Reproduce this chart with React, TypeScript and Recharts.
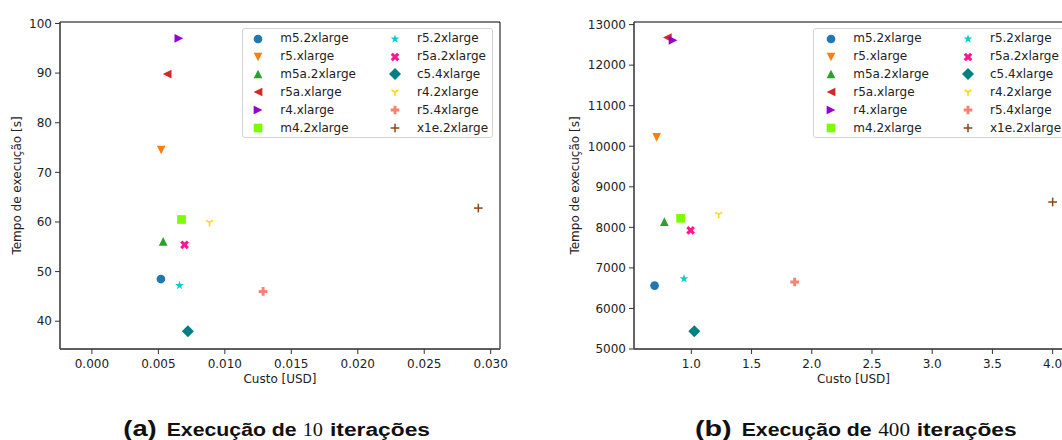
import { ScatterChart, Scatter, XAxis, YAxis, Legend, ReferenceArea } from 'recharts';

// instance types, same order in both runs
const INSTANCES = [
    'm5.2xlarge', 'r5.xlarge', 'm5a.2xlarge', 'r5a.xlarge', 'r4.xlarge', 'm4.2xlarge',
    'r5.2xlarge', 'r5a.2xlarge', 'c5.4xlarge', 'r4.2xlarge', 'r5.4xlarge', 'x1e.2xlarge',
];

// (a) 10 iterations
const COST_10 = [0.00519, 0.00521, 0.00536, 0.00566, 0.00654, 0.00674, 0.00659, 0.00697, 0.00722, 0.00885, 0.01288, 0.02907];
const TIME_10 = [48.5, 74.5, 56.1, 89.8, 97.0, 60.5, 47.2, 55.4, 38.0, 59.9, 46.0, 62.8];

// (b) 400 iterations
const COST_400 = [0.695, 0.712, 0.776, 0.801, 0.848, 0.911, 0.939, 0.994, 1.025, 1.227, 1.858, 4.0];
const TIME_400 = [6564, 10221, 8142, 12679, 12613, 8223, 6736, 7927, 5437, 8322, 6652, 8625];

const X_TICKS_10 = [0, 0.005, 0.01, 0.015, 0.02, 0.025, 0.03];
const Y_TICKS_10 = [40, 50, 60, 70, 80, 90, 100];
const X_TICKS_400 = [1.0, 1.5, 2.0, 2.5, 3.0, 3.5, 4.0];
const Y_TICKS_400 = [5000, 6000, 7000, 8000, 9000, 10000, 11000, 12000, 13000];

const COLORS = ['#1f77b4', '#ff7f0e', '#2ca02c', '#d62728', '#9400d3', '#7cfc00',
    '#00ced1', '#ff1493', '#008080', '#ffd700', '#fa8072', '#8b4513'];
const MARKERS = ['o', 'v', '^', '<', '>', 's', '*', 'X', 'D', '1', 'P', '+'];

const SIZE = 8.7;
const TEXT = '#222';

function pts(list: number[][], cx: number, cy: number, k = 1) {
    return list.map(([x, y]) => `${cx + x * k},${cy + y * k}`).join(' ');
}

function Marker({ kind, cx, cy, color }: { kind: string; cx: number; cy: number; color: string }) {
    const h = SIZE / 2;
    switch (kind) {
        case 'o':
            return <circle cx={cx} cy={cy} r={h} fill={color} />;
        case 'v':
            return <polygon points={pts([[-h, -h], [h, -h], [0, h]], cx, cy)} fill={color} />;
        case '^':
            return <polygon points={pts([[-h, h], [h, h], [0, -h]], cx, cy)} fill={color} />;
        case '<':
            return <polygon points={pts([[-h, 0], [h, -h], [h, h]], cx, cy)} fill={color} />;
        case '>':
            return <polygon points={pts([[h, 0], [-h, -h], [-h, h]], cx, cy)} fill={color} />;
        case 's':
            return <rect x={cx - h} y={cy - h} width={SIZE} height={SIZE} fill={color} />;
        case 'D': {
            const d = 6;
            return <polygon points={pts([[0, -d], [d, 0], [0, d], [-d, 0]], cx, cy)} fill={color} />;
        }
        case '*': {
            const star = [];
            for (let i = 0; i < 10; i++) {
                const a = (-90 + i * 36) * Math.PI / 180;
                const r = i % 2 === 0 ? h + 0.3 : (h + 0.3) * 0.382;
                star.push([r * Math.cos(a), r * Math.sin(a)]);
            }
            return <polygon points={pts(star, cx, cy)} fill={color} />;
        }
        case 'X':
            return <polygon points={pts([[-1, -2], [0, -1], [1, -2], [2, -1], [1, 0], [2, 1], [1, 2], [0, 1], [-1, 2], [-2, 1], [-1, 0], [-2, -1]], cx, cy, SIZE / 4)} fill={color} />;
        case 'P':
            return <polygon points={pts([[-1, -3], [1, -3], [1, -1], [3, -1], [3, 1], [1, 1], [1, 3], [-1, 3], [-1, 1], [-3, 1], [-3, -1], [-1, -1]], cx, cy, SIZE / 6)} fill={color} />;
        case '1': {
            const l = 4;
            return (
                <g stroke={color} strokeWidth={1.5}>
                    <line x1={cx} y1={cy} x2={cx} y2={cy + l} />
                    <line x1={cx} y1={cy} x2={cx - 0.866 * l} y2={cy - 0.5 * l} />
                    <line x1={cx} y1={cy} x2={cx + 0.866 * l} y2={cy - 0.5 * l} />
                </g>
            );
        }
        case '+':
            return (
                <g stroke={color} strokeWidth={1.5}>
                    <line x1={cx - h} y1={cy} x2={cx + h} y2={cy} />
                    <line x1={cx} y1={cy - h} x2={cx} y2={cy + h} />
                </g>
            );
        default:
            return null;
    }
}

function LegendBox({ markerX, textX, colGap }: { markerX: number; textX: number; colGap: number }) {
    return (
        <div style={{
            position: 'relative', width: 251, height: 110, boxSizing: 'border-box',
            border: '1px solid #d4d4d4', borderRadius: 3, background: 'rgba(255,255,255,0.8)',
            fontSize: 12, color: TEXT, fontFamily: 'DejaVu Sans',
        }}>
            {INSTANCES.map((name, i) => {
                const col = Math.floor(i / 6);
                const row = i % 6;
                const cy = 9.6 + row * 17.9;
                return (
                    <div key={name}>
                        <svg width={14} height={14} style={{ position: 'absolute', left: markerX + col * colGap - 7, top: cy - 7 }}>
                            <Marker kind={MARKERS[i]} cx={7} cy={7} color={COLORS[i]} />
                        </svg>
                        <span style={{ position: 'absolute', left: textX + col * colGap, top: cy - 7.5, lineHeight: '14px', whiteSpace: 'nowrap' }}>
                            {name}
                        </span>
                    </div>
                );
            })}
        </div>
    );
}

interface PanelProps {
    cost: number[];
    time: number[];
    xDomain: [number, number];
    yDomain: [number, number];
    xTicks: number[];
    yTicks: number[];
    xDigits: number;
    left: number;
    width: number;
    yAxisWidth: number;
    marginRight: number;
    yLabelDx: number;
    legendLeft: number;
    legendMarkerX: number;
    legendTextX: number;
}

function Panel(p: PanelProps) {
    return (
        <div style={{ position: 'absolute', left: p.left, top: 0 }}>
            <ScatterChart width={p.width} height={400} margin={{ top: 22, right: p.marginRight, bottom: 21, left: 0 }}>
                <ReferenceArea x1={p.xDomain[0]} x2={p.xDomain[1]} y1={p.yDomain[0]} y2={p.yDomain[1]}
                    fill="none" fillOpacity={0} stroke="#000" strokeWidth={1} strokeOpacity={1} ifOverflow="visible" />
                <XAxis type="number" dataKey="x" domain={p.xDomain} ticks={p.xTicks} allowDataOverflow
                    tickFormatter={(v: number) => v.toFixed(p.xDigits)} height={30} tickSize={5} tickMargin={5}
                    axisLine={{ stroke: '#555', strokeWidth: 1.3 }} tickLine={{ stroke: '#333' }}
                    tick={{ fontSize: 12, fill: TEXT }}
                    label={{ value: 'Custo [USD]', position: 'center', dy: 15, fontSize: 12, fill: TEXT }} />
                <YAxis type="number" dataKey="y" domain={p.yDomain} ticks={p.yTicks} allowDataOverflow
                    width={p.yAxisWidth} tickSize={5} tickMargin={3}
                    axisLine={{ stroke: '#555', strokeWidth: 1.3 }} tickLine={{ stroke: '#333' }}
                    tick={{ fontSize: 12, fill: TEXT }}
                    label={{ value: 'Tempo de execução [s]', position: 'center', angle: -90, dx: p.yLabelDx, fontSize: 12, fill: TEXT }} />
                {INSTANCES.map((name, i) => (
                    <Scatter key={name} name={name} data={[{ x: p.cost[i], y: p.time[i] }]} fill={COLORS[i]}
                        isAnimationActive={false}
                        shape={(s: any) => <Marker kind={MARKERS[i]} cx={s.cx} cy={s.cy} color={COLORS[i]} />} />
                ))}
                <Legend layout="vertical" align="center" verticalAlign="middle"
                    wrapperStyle={{ left: p.legendLeft, top: 28, width: 251, height: 110 }}
                    content={() => <LegendBox markerX={p.legendMarkerX} textX={p.legendTextX} colGap={136.7} />} />
            </ScatterChart>
        </div>
    );
}

function Caption({ letter, n, x }: { letter: string; n: string; x: number[] }) {
    const bold = { fontFamily: 'Liberation Sans, Arial, sans-serif', fontWeight: 700, fill: '#111' };
    return (
        <g>
            <text x={x[0]} y={435.5} fontSize={22} textLength={x[1]} lengthAdjust="spacingAndGlyphs" style={bold}>({letter})</text>
            <text x={x[2]} y={435.5} fontSize={17.5} textLength={130} lengthAdjust="spacingAndGlyphs" style={bold}>Execução de</text>
            <text x={x[3]} y={435.5} fontSize={19} textLength={x[4]} lengthAdjust="spacingAndGlyphs"
                style={{ fontFamily: 'Liberation Serif, serif', fill: '#111' }}>{n}</text>
            <text x={x[5]} y={435.5} fontSize={17.5} textLength={100} lengthAdjust="spacingAndGlyphs" style={bold}>iterações</text>
        </g>
    );
}

export default function App() {
    return (
        <div style={{ position: 'absolute', left: 0, top: 0, width: 1062, height: 440, overflow: 'hidden', background: '#fff', fontFamily: 'DejaVu Sans' }}>
            <Panel cost={COST_10} time={TIME_10} xDomain={[-0.0024, 0.0307]} yDomain={[34.4, 100.3]}
                xTicks={X_TICKS_10} yTicks={Y_TICKS_10} xDigits={3}
                left={0} width={520} yAxisWidth={60} marginRight={20} yLabelDx={-13}
                legendLeft={242} legendMarkerX={15.3} legendTextX={37.3} />
            <Panel cost={COST_400} time={TIME_400} xDomain={[0.524, 4.169]} yDomain={[5000, 13064]}
                xTicks={X_TICKS_400} yTicks={Y_TICKS_400} xDigits={1}
                left={540} width={545} yAxisWidth={94} marginRight={12} yLabelDx={-12}
                legendLeft={273.3} legendMarkerX={16.7} legendTextX={39} />
            <svg width={1062} height={440} style={{ position: 'absolute', left: 0, top: 0, pointerEvents: 'none' }}>
                <Caption letter="a" n="10" x={[123.3, 33.4, 166.7, 302.7, 20.3, 330]} />
                <Caption letter="b" n="400" x={[695, 36.7, 741.7, 878.3, 31.7, 916.7]} />
            </svg>
        </div>
    );
}
